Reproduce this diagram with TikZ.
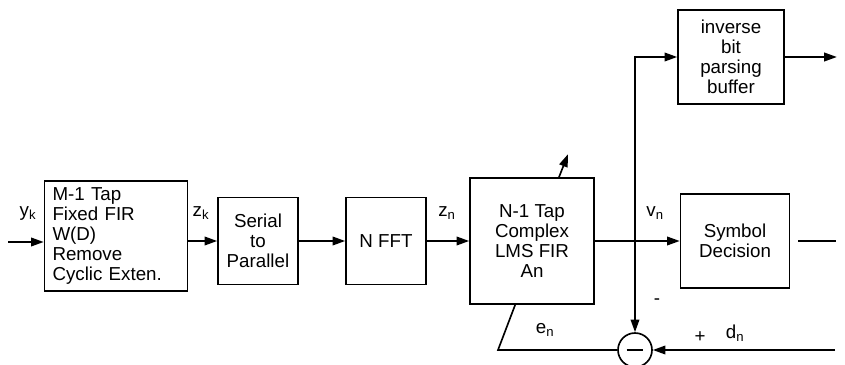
\documentclass[tikz,border=0pt]{standalone}
\usepackage{fontspec}
\setmainfont{Liberation Sans}
\usetikzlibrary{arrows.meta,positioning,calc}

\begin{document}
\begin{tikzpicture}[
    x=0.3mm, y=-0.3mm,
    blk/.style={rectangle, draw, line width=1.4pt, inner sep=2pt, align=center,
        font=\fontsize{16}{17.2}\selectfont},
    lbl/.style={font=\fontsize{16}{17}\selectfont},
    line width=1.4pt,
    >={Triangle[length=3.8mm, width=2.6mm]}
]
    \useasboundingbox (0,0) rectangle (845,365);

    % forward path
    \node[blk, align=left, text width=38.1mm, inner xsep=2.4mm, minimum height=33mm] (fix) at (116,236)
        {M-1 Tap\\Fixed FIR\\W(D)\\Remove\\Cyclic Exten.};
    \node[blk, minimum width=24mm, minimum height=26.1mm] (s2p) at (258,241) {Serial\\to\\Parallel};
    \node[blk, minimum width=24mm, minimum height=26.1mm] (fft) at (386,241) {N FFT};
    \node[blk, minimum width=37.2mm, minimum height=37.8mm] (lms) at (532,241)
        {N-1 Tap\\Complex\\LMS FIR\\An};
    \node[blk, minimum width=32.7mm, minimum height=28.2mm] (dec) at (735,241) {Symbol\\Decision};
    \node[blk, minimum width=31.8mm, minimum height=28.2mm] (ibp) at (731,57)
        {inverse\\bit\\parsing\\buffer};
    \node[circle, draw, line width=1.4pt, inner sep=0pt, minimum size=10.2mm] (sub) at (635,350)
        {\rule{5mm}{1.5pt}};

    \coordinate (yin) at (8,242);
    \coordinate (tap) at (635,241);
    \coordinate (dref) at (835,350);
    \coordinate (ebend) at (498,350);

    \draw[->] (yin) -- (yin -| fix.west);
    \draw[->] (fix.east |- s2p.west) -- (s2p.west);
    \draw[->] (s2p) -- (fft);
    \draw[->] (fft) -- (lms);
    \draw[->] (lms) -- (dec);
    \draw[->] ($(lms.north)+(27,0)$) -- ++(9,-23);

    % tap to buffer and error
    \draw[->] (tap) |- (ibp.west);
    \draw[->] (tap) -- (sub.north);
    \draw[->] (ibp.east) -- ++(52,0);
    \draw ($(dec.east)+(8,0)$) -- ++(38,0);
    \draw[->] (dref) -- (sub.east);
    \draw (sub.west) -- (ebend) -- ($(lms.south west)+(46,0)$);

    % labels
    \node[lbl] (ylab) at (28,213) {y\textsubscript{k}};
    \node[lbl] (zklab) at (201,213) {z\textsubscript{k}};
    \node[lbl] (znlab) at (447,213) {z\textsubscript{n}};
    \node[lbl] (vnlab) at (655,213) {v\textsubscript{n}};
    \node[lbl] (minus) at (657,302) {-};
    \node[lbl] (plus) at (700,337) {+};
    \node[lbl] (dnlab) at (735,333) {d\textsubscript{n}};
    \node[lbl] (enlab) at (545,330) {e\textsubscript{n}};
\end{tikzpicture}
\end{document}
